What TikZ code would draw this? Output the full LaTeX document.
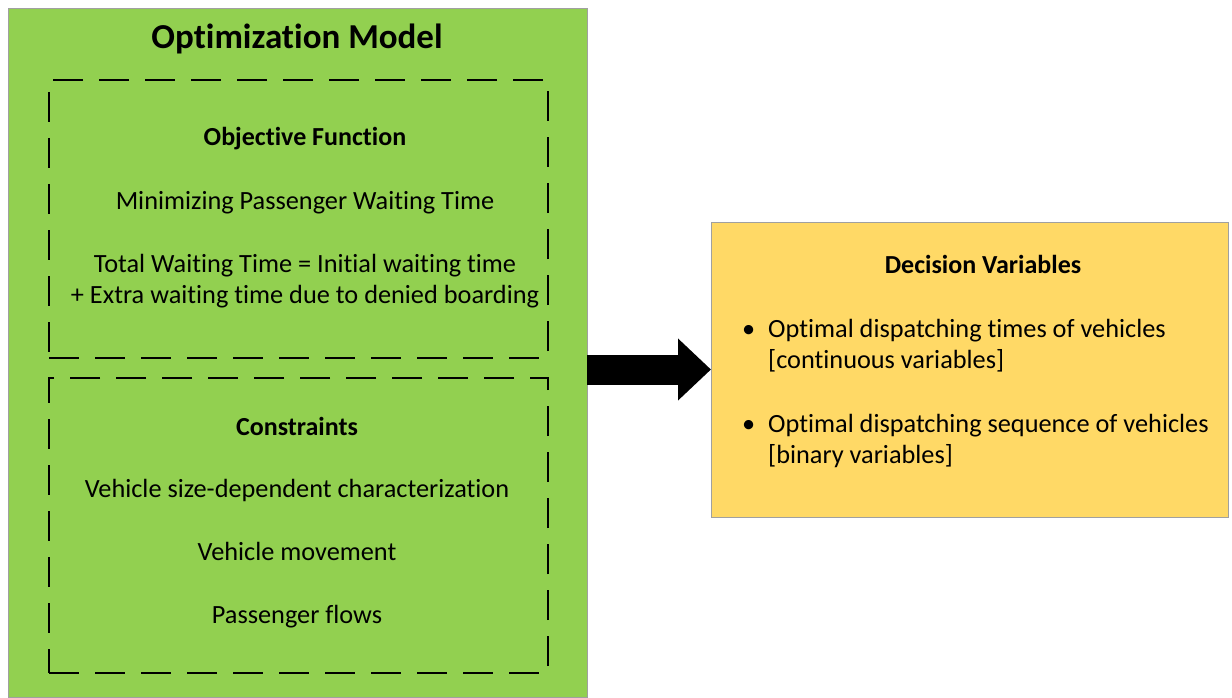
\documentclass[tikz,border=0pt]{standalone}
\usepackage{fontspec}
\setmainfont{Carlito}[Ligatures=NoCommon]
\usetikzlibrary{arrows.meta}
\definecolor{modelgreen}{HTML}{92D050}
\definecolor{varyellow}{HTML}{FFD966}
\definecolor{edgegrey}{HTML}{A0A0A0}
\tikzset{
  panel/.style={draw=edgegrey, line width=0.8pt, outer sep=0pt, inner sep=0pt, anchor=north west},
  dashbox/.style={draw=black, line width=2pt, dash pattern=on 30pt off 16pt, outer sep=0pt, inner sep=0pt, anchor=north west},
  body/.style={font=\fontsize{26.3}{31}\selectfont, align=center, inner sep=0pt, anchor=base},
  head/.style={font=\fontsize{26}{31}\selectfont\bfseries, inner sep=0pt, anchor=base},
  title/.style={font=\fontsize{35}{40}\selectfont\bfseries, inner sep=0pt, anchor=base},
  item/.style={font=\fontsize{26.3}{31}\selectfont, align=left, inner sep=0pt, anchor=base west},
  bigarrow/.style={line width=30pt, -{Triangle[length=33pt, width=60pt]}},
}
\newcommand{\itemdot}{\llap{\textbullet\hspace{13pt}}}
\begin{document}
\begin{tikzpicture}[x=1pt, y=-1pt]
  \useasboundingbox (0,0) rectangle (1232,698);

  % model panel and its two dashed sections
  \node[panel, fill=modelgreen, minimum width=579pt, minimum height=689pt] (model) at (8,8) {};
  \node[dashbox, minimum width=499pt, minimum height=278pt] (objective) at (49,80) {};
  \node[dashbox, minimum width=499pt, minimum height=295pt] (constraints) at (49,378) {};

  \node[title] (modeltitle) at (297,49) {Optimization Model};

  % multi-line nodes are placed by the baseline of their last line
  \node[head] (objhead) at (305,146) {Objective Function};
  \node[body] (objmin) at (305,209) {Minimizing Passenger Waiting Time};
  \node[body] (objtotal) at (305,303) {Total Waiting Time = Initial waiting time\\+ Extra waiting time due to denied boarding};

  \node[head] (conhead) at (297,435) {Constraints};
  \node[body] (consize) at (297,497) {Vehicle size-dependent characterization};
  \node[body] (conmove) at (297,560) {Vehicle movement};
  \node[body] (conflow) at (297,623) {Passenger flows};

  % decision variables panel
  \node[panel, fill=varyellow, minimum width=517pt, minimum height=295pt] (decision) at (711,222) {};
  \node[head] (dechead) at (983,273) {Decision Variables};
  \node[item] (dectimes) at (768,368) {\itemdot Optimal dispatching times of vehicles\\{}[continuous variables]};
  \node[item] (decseq) at (768,463) {\itemdot Optimal dispatching sequence of vehicles\\{}[binary variables]};

  % link from the model to its decision variables
  \draw[bigarrow] (model.east |- decision.west) -- (decision.west);
\end{tikzpicture}
\end{document}
